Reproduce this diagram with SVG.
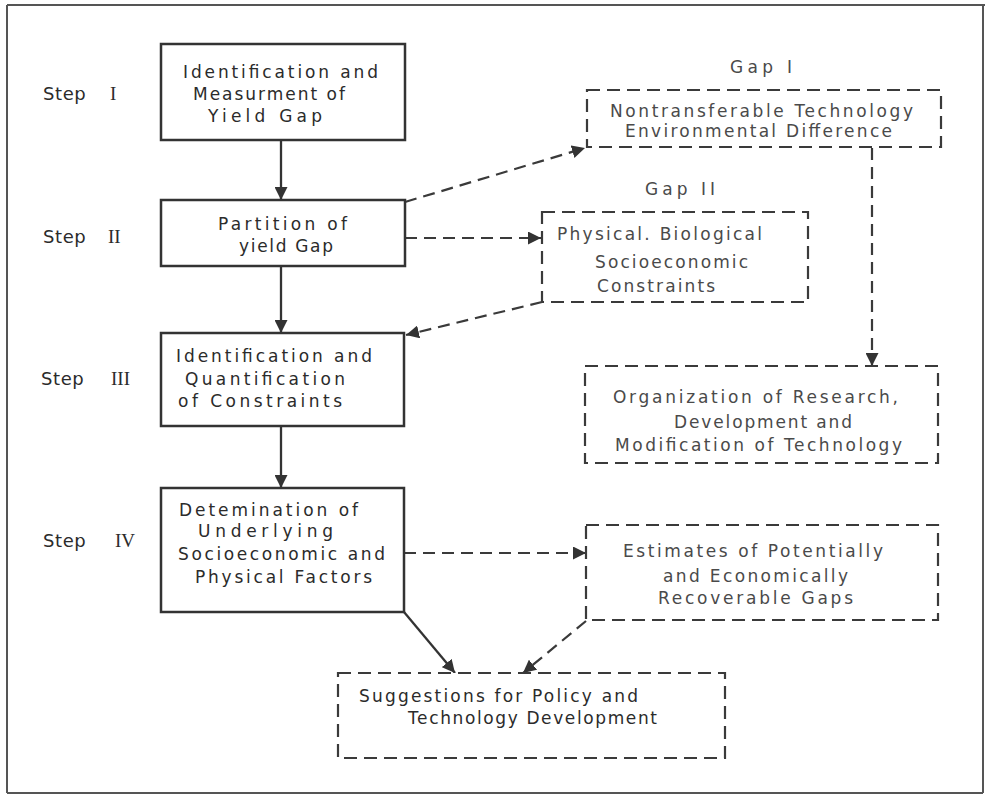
<svg xmlns="http://www.w3.org/2000/svg" width="993" height="797" viewBox="0 0 993 797">
<defs>
<style>
.t{font-family:"DejaVu Sans","Liberation Sans",Arial,sans-serif;font-size:17px;fill:#2b2b2b}
.tr{font-family:"DejaVu Sans","Liberation Sans",Arial,sans-serif;font-size:17px;fill:#4a4a4a}
.st{font-family:"DejaVu Sans","Liberation Sans",Arial,sans-serif;font-size:18px;fill:#2b2b2b}
.num{font-family:"Liberation Serif","DejaVu Serif",serif;font-size:19px}
.solid{fill:#fff;stroke:#333;stroke-width:2.5}
.dash{fill:#fff;stroke:#3a3a3a;stroke-width:2.2;stroke-dasharray:13 7}
.line{fill:none;stroke:#333;stroke-width:2.3}
.dline{fill:none;stroke:#3a3a3a;stroke-width:2.2;stroke-dasharray:12 7}
.frame{fill:none;stroke:#555;stroke-width:2}
</style>
<marker id="ah" viewBox="0 0 12 12" refX="12" refY="6" markerWidth="13" markerHeight="13" markerUnits="userSpaceOnUse" orient="auto">
<path d="M0,0 L12,6 L0,12 z" fill="#333"/>
</marker>
</defs>
<rect width="993" height="797" fill="#fff"/>
<g id="frame">
<path class="frame" d="M7,5 L985,5 M7,5 L7,793 M7,793 L983,793 M983,5 L983,793"/>
</g>
<g id="step-labels">
<text class="st" y="100"><tspan x="43" textLength="49">Step </tspan><tspan class="num" x="110">I</tspan></text>
<text class="st" y="243"><tspan x="43" textLength="49">Step </tspan><tspan class="num" x="108">II</tspan></text>
<text class="st" y="385"><tspan x="41" textLength="49">Step </tspan><tspan class="num" x="111">III</tspan></text>
<text class="st" y="547"><tspan x="43" textLength="49">Step </tspan><tspan class="num" x="115">IV</tspan></text>
</g>
<g id="connectors">
<path class="line" marker-end="url(#ah)" d="M281,140 L281,200"/>
<path class="line" marker-end="url(#ah)" d="M281,266 L281,333"/>
<path class="line" marker-end="url(#ah)" d="M281,426 L281,488"/>
<path class="dline" marker-end="url(#ah)" d="M405,202 L585,148"/>
<path class="dline" marker-end="url(#ah)" d="M405,238 L541,238"/>
<path class="dline" marker-end="url(#ah)" d="M542,302 L406,335"/>
<path class="dline" marker-end="url(#ah)" d="M872,148 L872,366"/>
<path class="dline" marker-end="url(#ah)" d="M404,553 L586,553"/>
<path class="line" marker-end="url(#ah)" d="M404,612 L455,673"/>
<path class="dline" marker-end="url(#ah)" d="M586,621 L523,673"/>
</g>
<g id="step1">
<rect class="solid" x="161" y="44" width="244" height="96"/>
<text class="t" x="183" y="78" textLength="195" lengthAdjust="spacing">Identification and</text>
<text class="t" x="193" y="100" textLength="152" lengthAdjust="spacing">Measurment of</text>
<text class="t" x="208" y="122" textLength="114" lengthAdjust="spacing">Yield Gap</text>
</g>
<g id="step2">
<rect class="solid" x="161" y="200" width="244" height="66"/>
<text class="t" x="218" y="230" textLength="129" lengthAdjust="spacing">Partition of</text>
<text class="t" x="239" y="252" textLength="94" lengthAdjust="spacing">yield Gap</text>
</g>
<g id="step3">
<rect class="solid" x="161" y="333" width="243" height="93"/>
<text class="t" x="176" y="362" textLength="196" lengthAdjust="spacing">Identification and</text>
<text class="t" x="185" y="385" textLength="160" lengthAdjust="spacing">Quantification</text>
<text class="t" x="178" y="407" textLength="164" lengthAdjust="spacing">of Constraints</text>
</g>
<g id="step4">
<rect class="solid" x="161" y="488" width="243" height="124"/>
<text class="t" x="179" y="516" textLength="179" lengthAdjust="spacing">Detemination of</text>
<text class="t" x="198" y="537" textLength="135" lengthAdjust="spacing">Underlying</text>
<text class="t" x="178" y="560" textLength="207" lengthAdjust="spacing">Socioeconomic and</text>
<text class="t" x="195" y="583" textLength="177" lengthAdjust="spacing">Physical Factors</text>
</g>
<g id="gap1">
<text class="tr" x="730" y="73" textLength="62" lengthAdjust="spacing">Gap I</text>
<rect class="dash" x="587" y="90" width="354" height="57"/>
<text class="tr" x="610" y="117" textLength="303" lengthAdjust="spacing">Nontransferable Technology</text>
<text class="tr" x="625" y="137" textLength="267" lengthAdjust="spacing">Environmental Difference</text>
</g>
<g id="gap2">
<text class="tr" x="645" y="195" textLength="70" lengthAdjust="spacing">Gap II</text>
<rect class="dash" x="542" y="212" width="266" height="90"/>
<text class="tr" x="557" y="240" textLength="205" lengthAdjust="spacing">Physical. Biological</text>
<text class="tr" x="595" y="268" textLength="153" lengthAdjust="spacing">Socioeconomic</text>
<text class="tr" x="597" y="292" textLength="118" lengthAdjust="spacing">Constraints</text>
</g>
<g id="organization">
<rect class="dash" x="585" y="366" width="353" height="97"/>
<text class="tr" x="613" y="403" textLength="285" lengthAdjust="spacing">Organization  of Research,</text>
<text class="tr" x="674" y="428" textLength="178" lengthAdjust="spacing">Development and</text>
<text class="tr" x="615" y="451" textLength="287" lengthAdjust="spacing">Modification of Technology</text>
</g>
<g id="estimates">
<rect class="dash" x="586" y="525" width="352" height="95"/>
<text class="tr" x="623" y="557" textLength="260" lengthAdjust="spacing">Estimates of Potentially</text>
<text class="tr" x="663" y="582" textLength="185" lengthAdjust="spacing">and Economically</text>
<text class="tr" x="658" y="604" textLength="195" lengthAdjust="spacing">Recoverable Gaps</text>
</g>
<g id="suggestions">
<rect class="dash" x="338" y="673" width="387" height="85"/>
<text class="t" x="359" y="702" textLength="279" lengthAdjust="spacing">Suggestions for Policy and</text>
<text class="t" x="408" y="724" textLength="249" lengthAdjust="spacing">Technology Development</text>
</g>
</svg>
